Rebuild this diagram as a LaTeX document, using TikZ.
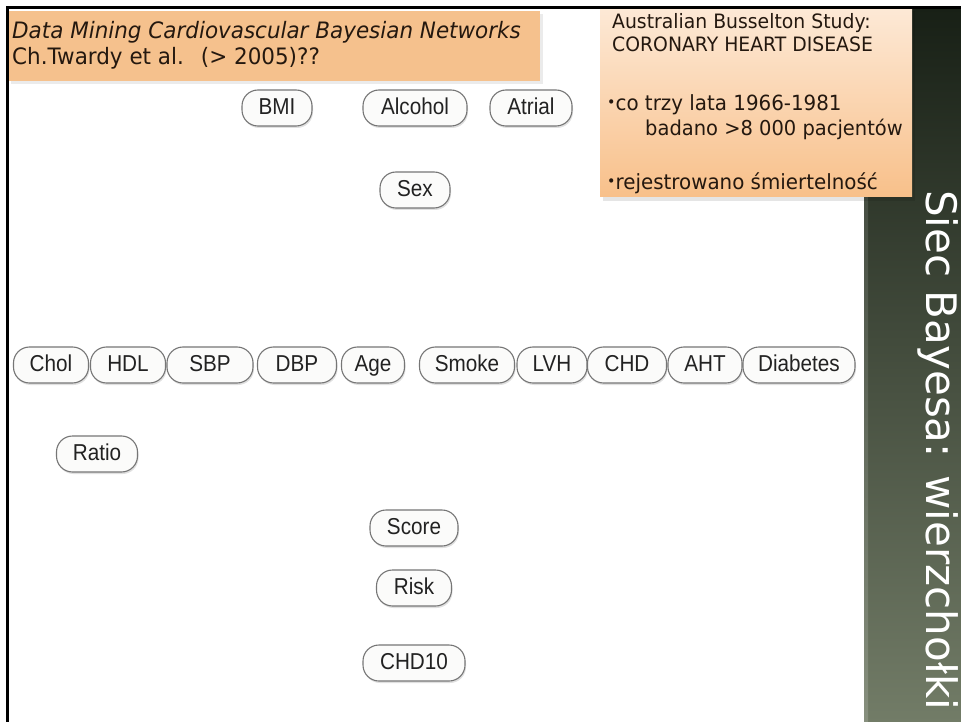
\documentclass[tikz,border=0pt]{standalone}
\usepackage{fontspec}
\newfontfamily\slidefont[FakeStretch=0.95]{DejaVu Sans}
\newfontfamily\titlefont{DejaVu Sans}
\newfontfamily\nodefont[FakeStretch=0.9]{Liberation Sans}
\usetikzlibrary{shadows}

\definecolor{titlebox}{HTML}{F5C18D}
\definecolor{notelight}{HTML}{FDE9D6}
\definecolor{notedeep}{HTML}{F8C08A}
\definecolor{paneltop}{HTML}{182016}
\definecolor{panelbot}{HTML}{727C67}
\definecolor{nodeline}{HTML}{767676}
\definecolor{nodefill}{HTML}{FBFBFA}
\definecolor{nodeink}{HTML}{222222}
\definecolor{slideink}{HTML}{24180F}

\newcommand{\smallbullet}{\raisebox{0.3ex}{\fontsize{15}{15}\selectfont•}}

\tikzset{
  var/.style={draw=nodeline, line width=1.1pt, fill=nodefill,
    rounded corners=16pt, minimum height=36pt, inner sep=0pt,
    text height=16.5pt, text depth=4pt,
    font=\nodefont\fontsize{23}{23}\selectfont, text=nodeink,
    drop shadow={shadow xshift=1pt, shadow yshift=-2pt, opacity=0.12, fill=black}},
  slidetext/.style={anchor=base west, inner sep=0pt, text=slideink},
}

\begin{document}
\begin{tikzpicture}[x=1pt,y=-1pt]
  % page
  \fill[white] (0,0) rectangle (961,722);
  \useasboundingbox (0,0) rectangle (961,722);

  % dark side panel with vertical title
  \shade[top color=paneltop, bottom color=panelbot] (865,8) rectangle (961,722);
  \shade[top color=paneltop!90!white, bottom color=panelbot!85!white] (864,8) rectangle (868,722);
  \node[rotate=-90, anchor=base west, inner sep=0pt, text=white,
        font=\titlefont\fontsize{42}{42}\selectfont] (title) at (926,190) {Siec Bayesa: wierzchołki};

  % title box, top left
  \fill[black, opacity=0.08] (11,14) rectangle (543,84);
  \fill[titlebox] (9,11) rectangle (540,81);
  \node[slidetext, font=\slidefont\itshape\fontsize{22.6}{22.6}\selectfont] (head) at (12,39)
    {Data Mining Cardiovascular Bayesian Networks};
  \node[slidetext, font=\slidefont\fontsize{22.6}{22.6}\selectfont] (authors) at (12,65)
    {Ch.Twardy et al.\hspace{17pt}(> 2005)??};

  % study note, top right
  \fill[black, opacity=0.10] (603,11) rectangle (915,201);
  \shade[top color=notelight, bottom color=notedeep] (600,8) rectangle (912,197);
  \node[slidetext, font=\slidefont\fontsize{19.8}{19.8}\selectfont] (study) at (612,29) {Australian Busselton Study:};
  \node[slidetext, font=\slidefont\fontsize{19.8}{19.8}\selectfont] (chd) at (612,52) {CORONARY HEART DISEASE};
  \node[slidetext, font=\slidefont\fontsize{20.9}{20.9}\selectfont] (every) at (607,111) {\smallbullet co trzy lata 1966-1981};
  \node[slidetext, font=\slidefont\fontsize{20.5}{20.5}\selectfont] (patients) at (645,136) {badano >8 000 pacjentów};
  \node[slidetext, font=\slidefont\fontsize{20.9}{20.9}\selectfont] (deaths) at (607,190) {\smallbullet rejestrowano śmiertelność};

  % frame
  \draw[line width=3pt, line cap=rect] (7.5,722) -- (7.5,7.5) -- (961,7.5);

  % network variables
  \node[var, minimum width=70pt]  (BMI)      at (277,108) {BMI};
  \node[var, minimum width=104pt] (Alcohol)  at (415,108) {Alcohol};
  \node[var, minimum width=82pt]  (Atrial)   at (531,108) {Atrial};
  \node[var, minimum width=70pt]  (Sex)      at (415,190) {Sex};

  \node[var, minimum width=75pt]  (Chol)     at (51,365)  {Chol};
  \node[var, minimum width=75pt]  (HDL)      at (128,365) {HDL};
  \node[var, minimum width=86pt]  (SBP)      at (210,365) {SBP};
  \node[var, minimum width=79pt]  (DBP)      at (297,365) {DBP};
  \node[var, minimum width=63pt]  (Age)      at (373,365) {Age};
  \node[var, minimum width=95pt]  (Smoke)    at (467,365) {Smoke};
  \node[var, minimum width=70pt]  (LVH)      at (552,365) {LVH};
  \node[var, minimum width=79pt]  (CHD)      at (627,365) {CHD};
  \node[var, minimum width=74pt]  (AHT)      at (705,365) {AHT};
  \node[var, minimum width=112pt] (Diabetes) at (799,365) {Diabetes};

  \node[var, minimum width=81pt]  (Ratio)    at (97,454)  {Ratio};
  \node[var, minimum width=88pt]  (Score)    at (414,528) {Score};
  \node[var, minimum width=75pt]  (Risk)     at (414,588) {Risk};
  \node[var, minimum width=102pt] (CHDten)   at (414,663) {CHD10};
\end{tikzpicture}
\end{document}
